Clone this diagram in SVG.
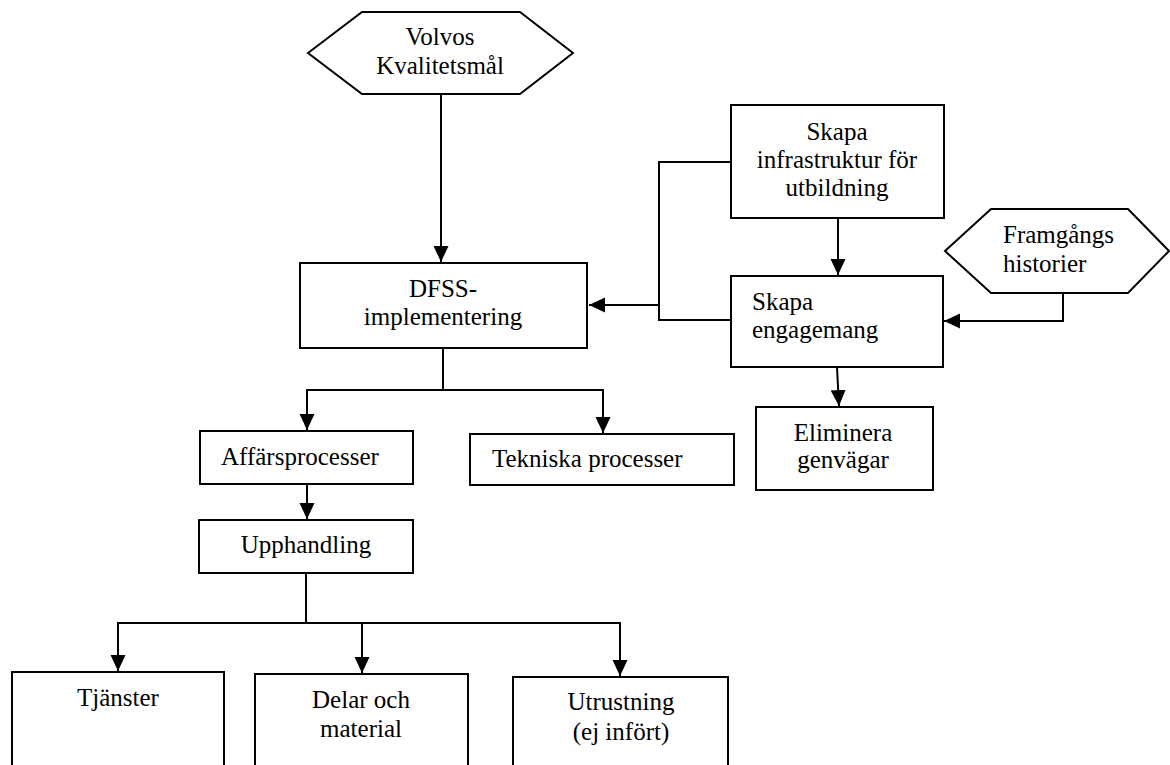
<svg xmlns="http://www.w3.org/2000/svg" width="1170" height="765" viewBox="0 0 1170 765">
<style>
.box{fill:#fff;stroke:#000;stroke-width:2}
.t{font-family:"Liberation Serif","Times New Roman",serif;font-size:25px;fill:#000}
.c{text-anchor:middle}
.ln{fill:none;stroke:#000;stroke-width:2}
</style>
<defs>
<marker id="ah" markerUnits="userSpaceOnUse" markerWidth="17" markerHeight="16" refX="16" refY="8" orient="auto">
<path d="M0,0.5 L16,8 L0,15.5 z" fill="#000"/>
</marker>
</defs>
<rect width="1170" height="765" fill="#fff"/>
<g id="connectors">
<path class="ln" d="M441,94 V262" marker-end="url(#ah)"/>
<path class="ln" d="M838,218 V275" marker-end="url(#ah)"/>
<path class="ln" d="M731,162 H659 V320 H731"/>
<path class="ln" d="M659,305 H589" marker-end="url(#ah)"/>
<path class="ln" d="M1063,293 V321 H944" marker-end="url(#ah)"/>
<path class="ln" d="M837,367 L839,406" marker-end="url(#ah)"/>
<path class="ln" d="M443,348 V390 H307 V430" marker-end="url(#ah)"/>
<path class="ln" d="M443,390 H603 V433" marker-end="url(#ah)"/>
<path class="ln" d="M307,484 V519" marker-end="url(#ah)"/>
<path class="ln" d="M306,573 V623 H118 V671" marker-end="url(#ah)"/>
<path class="ln" d="M306,623 H620 V676" marker-end="url(#ah)"/>
<path class="ln" d="M362,623 V673" marker-end="url(#ah)"/>
</g>
<g id="volvos">
<polygon class="box" points="308,53 362,12 520,12 573,53 520,94 362,94"/>
<text class="t c" x="440" y="45">Volvos</text>
<text class="t c" x="440" y="74">Kvalitetsmål</text>
</g>
<g id="dfss">
<rect class="box" x="300" y="263" width="287" height="85"/>
<text class="t c" x="443" y="297">DFSS-</text>
<text class="t c" x="443" y="325">implementering</text>
</g>
<g id="infra">
<rect class="box" x="731" y="105" width="213" height="113"/>
<text class="t c" x="837" y="140">Skapa</text>
<text class="t c" x="837" y="168">infrastruktur för</text>
<text class="t c" x="837" y="196">utbildning</text>
</g>
<g id="engagemang">
<rect class="box" x="731" y="276" width="212" height="91"/>
<text class="t" x="752" y="310">Skapa</text>
<text class="t" x="752" y="338">engagemang</text>
</g>
<g id="framgangs">
<polygon class="box" points="945,251 991,209 1128,209 1169,251 1128,293 991,293"/>
<text class="t" x="1003" y="243">Framgångs</text>
<text class="t" x="1003" y="272">historier</text>
</g>
<g id="eliminera">
<rect class="box" x="756" y="407" width="177" height="83"/>
<text class="t c" x="843" y="441">Eliminera</text>
<text class="t c" x="843" y="468">genvägar</text>
</g>
<g id="affars">
<rect class="box" x="200" y="431" width="213" height="53"/>
<text class="t" x="221" y="465">Affärsprocesser</text>
</g>
<g id="tekniska">
<rect class="box" x="470" y="434" width="264" height="51"/>
<text class="t" x="492" y="467">Tekniska processer</text>
</g>
<g id="upphandling">
<rect class="box" x="199" y="520" width="214" height="53"/>
<text class="t c" x="306" y="553">Upphandling</text>
</g>
<g id="tjanster">
<rect class="box" x="12" y="672" width="212" height="110"/>
<text class="t c" x="118" y="706">Tjänster</text>
</g>
<g id="delar">
<rect class="box" x="255" y="674" width="213" height="110"/>
<text class="t c" x="361" y="708">Delar och</text>
<text class="t c" x="361" y="737">material</text>
</g>
<g id="utrustning">
<rect class="box" x="513" y="677" width="215" height="110"/>
<text class="t c" x="621" y="710">Utrustning</text>
<text class="t c" x="621" y="740">(ej infört)</text>
</g>
</svg>
